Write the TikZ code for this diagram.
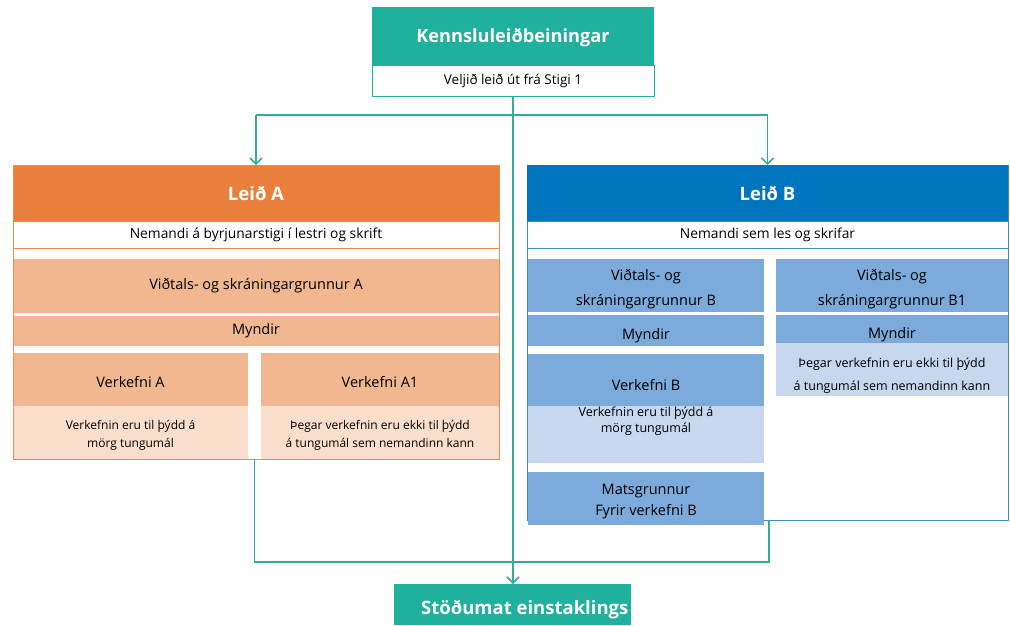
\documentclass[tikz,border=0pt]{standalone}
\usepackage{fontspec}
\setmainfont{Open Sans}
\usetikzlibrary{arrows.meta,calc}
\definecolor{tealbox}{HTML}{1FB19E}
\definecolor{tealline}{HTML}{35AB9C}
\definecolor{orH}{HTML}{E97F3C}
\definecolor{orM}{HTML}{F1B790}
\definecolor{orL}{HTML}{F9DFCB}
\definecolor{orB}{HTML}{E98E52}
\definecolor{blH}{HTML}{0075BF}
\definecolor{blM}{HTML}{7BAADB}
\definecolor{blL}{HTML}{C6D7EE}
\definecolor{blB}{HTML}{3C8DBC}
\tikzset{
  box/.style={draw=none, inner sep=0pt, outer sep=0pt, anchor=north west, align=center, text=black},
  txt/.style={inner sep=0pt, align=center, text=black},
  frame/.style={draw=#1, line width=1pt, inner sep=0pt, outer sep=0pt, anchor=north west},
  conn/.style={draw=tealline, line width=1.5pt},
  tip/.style={-{Straight Barb[length=6pt,width=12pt]}},
  ttl/.style={font=\bfseries\fontsize{18.5}{22}\selectfont, text=white},
  mid/.style={font=\fontsize{14.5}{25}\selectfont},
  sml/.style={font=\fontsize{12}{18}\selectfont},
  row/.style={font=\fontsize{13.8}{15}\selectfont},
}
\begin{document}
\begin{tikzpicture}[x=1pt,y=-1pt]
\useasboundingbox (0,0) rectangle (1010,625);
% top
\node[box, fill=tealbox, minimum width=282pt, minimum height=58pt] (kl) at (372,7) {};
\node[txt, ttl, font=\bfseries\fontsize{18.2}{22}\selectfont] (klt) at ($(kl.center)+(0,2)$) {Kennsluleiðbeiningar};
\node[box, fill=white, draw=tealbox, line width=1pt, minimum width=282pt, minimum height=31pt, row, font=\fontsize{13.5}{15}\selectfont] (velj) at (372,65) {Veljið leið út frá Stigi 1};
% Leid A
\node[box, fill=orH, minimum width=486pt, minimum height=56pt, ttl] (hdrA) at (13,165) {Leið A};
\node[box, fill=white, draw=orB, line width=0.8pt, minimum width=486pt, minimum height=27pt, row] (rowA) at (13,221) {Nemandi á byrjunarstigi í lestri og skrift};
\node[box, fill=orM, minimum width=486pt, minimum height=54pt, mid] (vidA) at (13,259) {Viðtals- og skráningargrunnur A};
\node[box, fill=orM, minimum width=486pt, minimum height=30pt, mid] (myndA) at (13,316) {Myndir};
\node[box, fill=orM, minimum width=235pt, minimum height=53pt] (verkA) at (13,353) {};
\node[txt, mid] (verkAt) at ($(verkA.center)+(0,3)$) {Verkefni A};
\node[box, fill=orL, minimum width=235pt, minimum height=53pt] (verkAd) at (13,406) {};
\node[txt, sml] (verkAdt) at ($(verkAd.center)+(0,3)$) {Verkefnin eru til þýdd á\\mörg tungumál};
\node[box, fill=orM, minimum width=238pt, minimum height=53pt] (verkA1) at (261,353) {};
\node[txt, mid] (verkA1t) at ($(verkA1.center)+(0,3)$) {Verkefni A1};
\node[box, fill=orL, minimum width=238pt, minimum height=53pt] (verkA1d) at (261,406) {};
\node[txt, sml] (verkA1dt) at ($(verkA1d.center)+(0,3)$) {Þegar verkefnin eru ekki til þýdd\\á tungumál sem nemandinn kann};
\node[frame=orB, minimum width=486pt, minimum height=294pt] (frameA) at (13,165) {};
% Leid B
\node[frame=blB, minimum width=481pt, minimum height=355pt] (frameB) at (527,165) {};
\node[box, fill=blH, minimum width=481pt, minimum height=56pt, ttl] (hdrB) at (527,165) {Leið B};
\node[box, fill=white, draw=blB, line width=0.8pt, minimum width=481pt, minimum height=27pt, row] (rowB) at (527,221) {Nemandi sem les og skrifar};
\node[box, fill=blM, minimum width=236pt, minimum height=53pt] (vidB) at (528,259) {};
\node[txt, mid] (vidBt) at ($(vidB.center)+(0,4)$) {Viðtals- og\\skráningargrunnur B};
\node[box, fill=blM, minimum width=236pt, minimum height=31pt] (myndB) at (528,315) {};
\node[txt, mid] (myndBt) at ($(myndB.center)+(0,5)$) {Myndir};
\node[box, fill=blM, minimum width=236pt, minimum height=52pt] (verkB) at (528,354) {};
\node[txt, mid] (verkBt) at ($(verkB.center)+(0,5)$) {Verkefni B};
\node[box, fill=blL, minimum width=236pt, minimum height=57pt] (verkBd) at (528,406) {};
\node[txt, anchor=north, font=\fontsize{12.5}{16}\selectfont] (verkBdt) at ($(verkBd.north)+(0,1)$) {Verkefnin eru til þýdd á\\mörg tungumál};
\node[box, fill=blM, minimum width=236pt, minimum height=53pt] (matsB) at (528,472) {};
\node[txt, font=\fontsize{14.5}{21}\selectfont] (matsBt) at ($(matsB.center)+(0,3)$) {Matsgrunnur\\Fyrir verkefni B};
\node[box, fill=blM, minimum width=232pt, minimum height=53pt] (vidB1) at (776,259) {};
\node[txt, mid] (vidB1t) at ($(vidB1.center)+(0,4)$) {Viðtals- og\\skráningargrunnur B1};
\node[box, fill=blM, minimum width=232pt, minimum height=28pt] (myndB1) at (776,315) {};
\node[box, fill=blL, minimum width=232pt, minimum height=53pt] (myndB1d) at (776,343) {};
\node[txt, font=\fontsize{12.5}{23}\selectfont] (myndB1dt) at ($(myndB1d.center)+(0,6)$) {Þegar verkefnin eru ekki til þýdd\\á tungumál sem nemandinn kann};
\node[txt, mid] (myndB1t) at ($(myndB1.center)+(0,6)$) {Myndir};
% bottom
\node[box, fill=tealbox, minimum width=237pt, minimum height=41pt] (stod) at (394,584) {};
\node[txt, ttl, anchor=west, font=\bfseries\fontsize{18.5}{24}\selectfont] (stodt) at (421,610) {Stöðumat einstaklings};
% connectors
\coordinate (jt) at (513,115);
\coordinate (jb) at (513,562);
\coordinate (aOut) at (254.5,459);
\coordinate (bOut) at (769,520);
\draw[conn] (hdrA.north |- jt) -- (hdrB.north |- jt);
\draw[conn, tip] (hdrA.north |- jt) -- (hdrA.north);
\draw[conn, tip] (hdrB.north |- jt) -- (hdrB.north);
\draw[conn, tip] (velj.south) -- (velj.south |- stod.north);
\draw[conn] (aOut) |- (jb) -| (bOut);
\end{tikzpicture}
\end{document}
